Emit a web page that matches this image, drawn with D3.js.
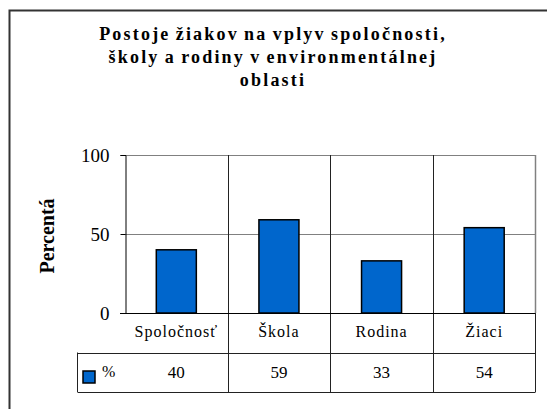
<!DOCTYPE html>
<html>
<head>
<meta charset="utf-8">
<script src="https://cdn.jsdelivr.net/npm/d3@7"></script>
<style>
  body { margin: 0; background: #fff; }
  svg text { font-family: "Liberation Serif", serif; }
</style>
</head>
<body>
<div id="chart"></div>
<script>
// data
var categories = ["Spoločnosť", "Škola", "Rodina", "Žiaci"];
var values = [40, 59, 33, 54];
var yTicks = [0, 50, 100];
var titleLines = ["Postoje žiakov na vplyv spoločnosti,", "školy a rodiny v  environmentálnej", "oblasti"];
var seriesName = "%";

var W = 547, H = 409;
var plot = {left: 125, right: 535.5, top: 155, bottom: 313};
var rowH = 39.5;

var svg = d3.select("#chart").append("svg")
    .attr("width", W)
    .attr("height", H);

svg.append("rect").attr("width", W).attr("height", H).attr("fill", "#fff");

// outer frame (chart area border)
svg.append("path")
    .attr("d", "M9.5," + H + " V10.5 H" + W)
    .attr("fill", "none")
    .attr("stroke", "#333")
    .attr("stroke-width", 2);

// title
svg.append("g").selectAll("text")
    .data(titleLines)
    .enter().append("text")
    .attr("x", 273)
    .attr("y", function(d, i) { return 40 + i * 23; })
    .attr("text-anchor", "middle")
    .style("font-size", "18px")
    .style("font-weight", "bold")
    .style("letter-spacing", "2.2px")
    .style("word-spacing", "-1.5px")
    .text(function(d) { return d; });

// scales
var x = d3.scaleBand()
    .domain(categories)
    .range([plot.left, plot.right])
    .padding(0);

var y = d3.scaleLinear()
    .domain([0, 100])
    .range([plot.bottom, plot.top]);

// gridlines
svg.append("g").selectAll("line")
    .data(yTicks.filter(function(d) { return d > 0; }))
    .enter().append("line")
    .attr("x1", plot.left).attr("x2", plot.right)
    .attr("y1", function(d) { return Math.round(y(d)) + 0.5; })
    .attr("y2", function(d) { return Math.round(y(d)) + 0.5; })
    .attr("stroke", "#808080")
    .attr("stroke-width", 1.2);

// plot right border
svg.append("line")
    .attr("x1", plot.right).attr("x2", plot.right)
    .attr("y1", plot.top).attr("y2", plot.bottom)
    .attr("stroke", "#808080")
    .attr("stroke-width", 1.5);

// category dividers (through plot and table)
svg.append("g").selectAll("line")
    .data(categories.slice(1))
    .enter().append("line")
    .attr("x1", function(d) { return Math.round(x(d)) + 0.5; })
    .attr("x2", function(d) { return Math.round(x(d)) + 0.5; })
    .attr("y1", plot.top)
    .attr("y2", plot.bottom + 2 * rowH)
    .attr("stroke", "#222")
    .attr("stroke-width", 1);

// bars
var barW = x.bandwidth() * 0.39;
svg.append("g").selectAll("rect")
    .data(values)
    .enter().append("rect")
    .attr("x", function(d, i) { return x(categories[i]) + (x.bandwidth() - barW) / 2; })
    .attr("y", function(d) { return y(d); })
    .attr("width", barW)
    .attr("height", function(d) { return y(0) - y(d); })
    .attr("fill", "#0066cc")
    .attr("stroke", "#000")
    .attr("stroke-width", 1.5);

// y axis
var yAxis = svg.append("g")
    .attr("transform", "translate(" + (plot.left + 0.5) + ",0)")
    .call(d3.axisLeft(y).tickValues(yTicks).tickSize(5).tickPadding(11));
yAxis.select(".domain").attr("stroke", "#000");
yAxis.selectAll("text")
    .attr("fill", "#000")
    .style("font-size", "19px");

// y axis label
svg.append("text")
    .attr("transform", "translate(54," + ((plot.top + plot.bottom) / 2 + 2) + ") rotate(-90)")
    .attr("text-anchor", "middle")
    .style("font-size", "20px")
    .style("font-weight", "bold")
    .text("Percentá");

// data table
var legLeft = 77.5;
var table = svg.append("g");
table.append("line")
    .attr("x1", plot.left - 5).attr("x2", plot.right)
    .attr("y1", plot.bottom + 0.5).attr("y2", plot.bottom + 0.5)
    .attr("stroke", "#000").attr("stroke-width", 1.2);
[1, 2].forEach(function(r) {
  table.append("line")
      .attr("x1", legLeft).attr("x2", plot.right)
      .attr("y1", Math.round(plot.bottom + r * rowH) + 0.5)
      .attr("y2", Math.round(plot.bottom + r * rowH) + 0.5)
      .attr("stroke", "#222");
});
table.append("line")
    .attr("x1", legLeft).attr("x2", legLeft)
    .attr("y1", plot.bottom + rowH).attr("y2", plot.bottom + 2 * rowH)
    .attr("stroke", "#222");
table.append("line")
    .attr("x1", plot.right).attr("x2", plot.right)
    .attr("y1", plot.bottom).attr("y2", plot.bottom + 2 * rowH)
    .attr("stroke", "#222");

// category labels
table.selectAll(".cat")
    .data(categories)
    .enter().append("text")
    .attr("class", "cat")
    .attr("x", function(d) { return x(d) + x.bandwidth() / 2; })
    .attr("y", plot.bottom + 24)
    .attr("text-anchor", "middle")
    .style("font-size", "16px")
    .style("letter-spacing", "1px")
    .text(function(d) { return d; });

// values row
table.selectAll(".val")
    .data(values)
    .enter().append("text")
    .attr("class", "val")
    .attr("x", function(d, i) { return x(categories[i]) + x.bandwidth() / 2; })
    .attr("y", plot.bottom + rowH + 25)
    .attr("text-anchor", "middle")
    .style("font-size", "17px")
    .text(function(d) { return d; });

// legend key
table.append("rect")
    .attr("x", 83).attr("y", 371)
    .attr("width", 12).attr("height", 12)
    .attr("fill", "#0066cc")
    .attr("stroke", "#000")
    .attr("stroke-width", 1.5);
table.append("text")
    .attr("x", 102).attr("y", 377)
    .style("font-size", "16px")
    .text(seriesName);
</script>
</body>
</html>
